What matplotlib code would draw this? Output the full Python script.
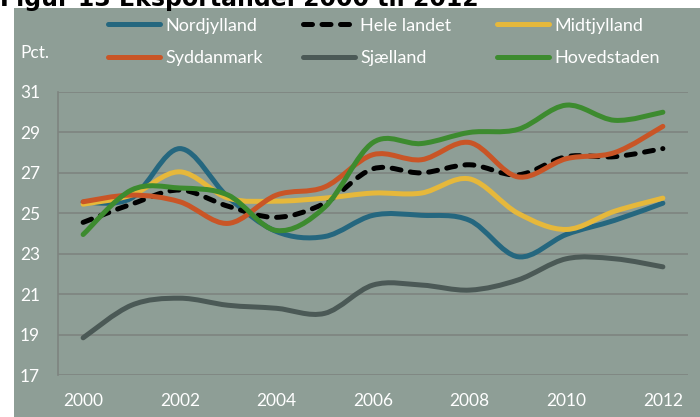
import matplotlib
matplotlib.use("Agg")
import matplotlib.pyplot as plt
from matplotlib.path import Path
from matplotlib.patches import PathPatch, Rectangle
from matplotlib.lines import Line2D

years = [2000, 2001, 2002, 2003, 2004, 2005, 2006, 2007, 2008, 2009, 2010, 2011, 2012]
nordjylland = [25.55, 25.75, 28.2, 25.8, 24.1, 23.85, 24.9, 24.9, 24.65, 22.85, 23.95, 24.65, 25.5]
hele_landet = [24.55, 25.45, 26.15, 25.35, 24.8, 25.5, 27.2, 27.0, 27.4, 26.9, 27.8, 27.8, 28.2]
midtjylland = [25.45, 25.9, 27.05, 25.75, 25.6, 25.75, 26.0, 26.0, 26.7, 25.0, 24.2, 25.1, 25.75]
syddanmark = [25.57, 25.9, 25.57, 24.5, 25.9, 26.3, 27.9, 27.65, 28.5, 26.8, 27.7, 28.0, 29.3]
sjaelland = [18.84, 20.45, 20.8, 20.45, 20.3, 20.05, 21.45, 21.45, 21.2, 21.7, 22.75, 22.75, 22.35]
hovedstaden = [23.95, 26.15, 26.25, 25.9, 24.15, 25.3, 28.5, 28.45, 29.0, 29.15, 30.35, 29.6, 30.0]

series = [
    ("Nordjylland", nordjylland, "#25677f", "-"),
    ("Hele landet", hele_landet, "black", "--"),
    ("Midtjylland", midtjylland, "#e6b83b", "-"),
    ("Syddanmark", syddanmark, "#c95526", "-"),
    ("Sjælland", sjaelland, "#4b5956", "-"),
    ("Hovedstaden", hovedstaden, "#3d8b2f", "-"),
]

bg = "#8e9e96"
grid_col = "#7e8480"
lw = 3.6
dash = (1.8, 1.9)


def smooth_path(xs, ys):
    # excel style smoothed line: cubic bezier through every point
    pts = list(zip(xs, ys))
    verts = [pts[0]]
    codes = [Path.MOVETO]
    n = len(pts)
    for i in range(n - 1):
        p0 = pts[max(i - 1, 0)]
        p1 = pts[i]
        p2 = pts[i + 1]
        p3 = pts[min(i + 2, n - 1)]
        c1 = (p1[0] + (p2[0] - p0[0]) / 6, p1[1] + (p2[1] - p0[1]) / 6)
        c2 = (p2[0] - (p3[0] - p1[0]) / 6, p2[1] - (p3[1] - p1[1]) / 6)
        verts += [c1, c2, p2]
        codes += [Path.CURVE4] * 3
    return Path(verts, codes)


plt.rcParams['font.family'] = ['Lato', 'DejaVu Sans']

fig = plt.figure(figsize=(7.0, 4.17), dpi=100)
fig.patches.append(Rectangle((14 / 700, 0), 1, 1 - 8 / 417, transform=fig.transFigure,
                             facecolor=bg, edgecolor='none', zorder=-10))

# title is cut at the top edge, as in the source image
fig.text(0.0, 1 - 6 / 417, "Figur 13 Eksportandel 2000 til 2012", fontsize=17, weight='bold',
         family='DejaVu Sans', ha='left', va='baseline', color='black')

ax = fig.add_axes([58 / 700, 1 - 375 / 417, 630 / 700, 283 / 417])
ax.set_facecolor('none')
ax.set_xlim(1999.48, 2012.52)
ax.set_ylim(17, 31)
ax.set_yticks(range(17, 32, 2))
ax.set_xticks(range(2000, 2013, 2))
ax.grid(axis='y', color=grid_col, lw=1.2)
ax.set_axisbelow(True)
for s in ['top', 'right', 'bottom']:
    ax.spines[s].set_visible(False)
ax.spines['left'].set_color(grid_col)
ax.spines['left'].set_linewidth(1.2)
ax.tick_params(length=0, colors='white', labelsize=12.5)
ax.tick_params(axis='y', pad=13)
ax.tick_params(axis='x', pad=13)

handles = []
for name, vals, col, ls in series:
    patch = PathPatch(smooth_path(years, vals), fill=False, edgecolor=col, lw=lw,
                      capstyle='round', joinstyle='round')
    if ls == "--":
        patch.set_linestyle((0, dash))
    ax.add_patch(patch)
    h = Line2D([], [], color=col, lw=lw, solid_capstyle='round', dash_capstyle='round')
    if ls == "--":
        h.set_dashes(dash)
    handles.append((h, name))

fig.text(20 / 700, 1 - 53 / 417, "Pct.", color='white', fontsize=12.5, va='center', ha='left')

col_x = [104 / 700, 299 / 700, 493 / 700]
for c in range(3):
    hs = [handles[c][0], handles[c + 3][0]]
    ls_ = [handles[c][1], handles[c + 3][1]]
    leg = fig.legend(hs, ls_, loc='upper left', bbox_to_anchor=(col_x[c], 1 - 14 / 417),
                     frameon=False, fontsize=13, handlelength=2.9, handletextpad=0.3,
                     labelspacing=0.9, borderpad=0.2, borderaxespad=0)
    for t in leg.get_texts():
        t.set_color('white')

fig.savefig("out.png", dpi=100)
